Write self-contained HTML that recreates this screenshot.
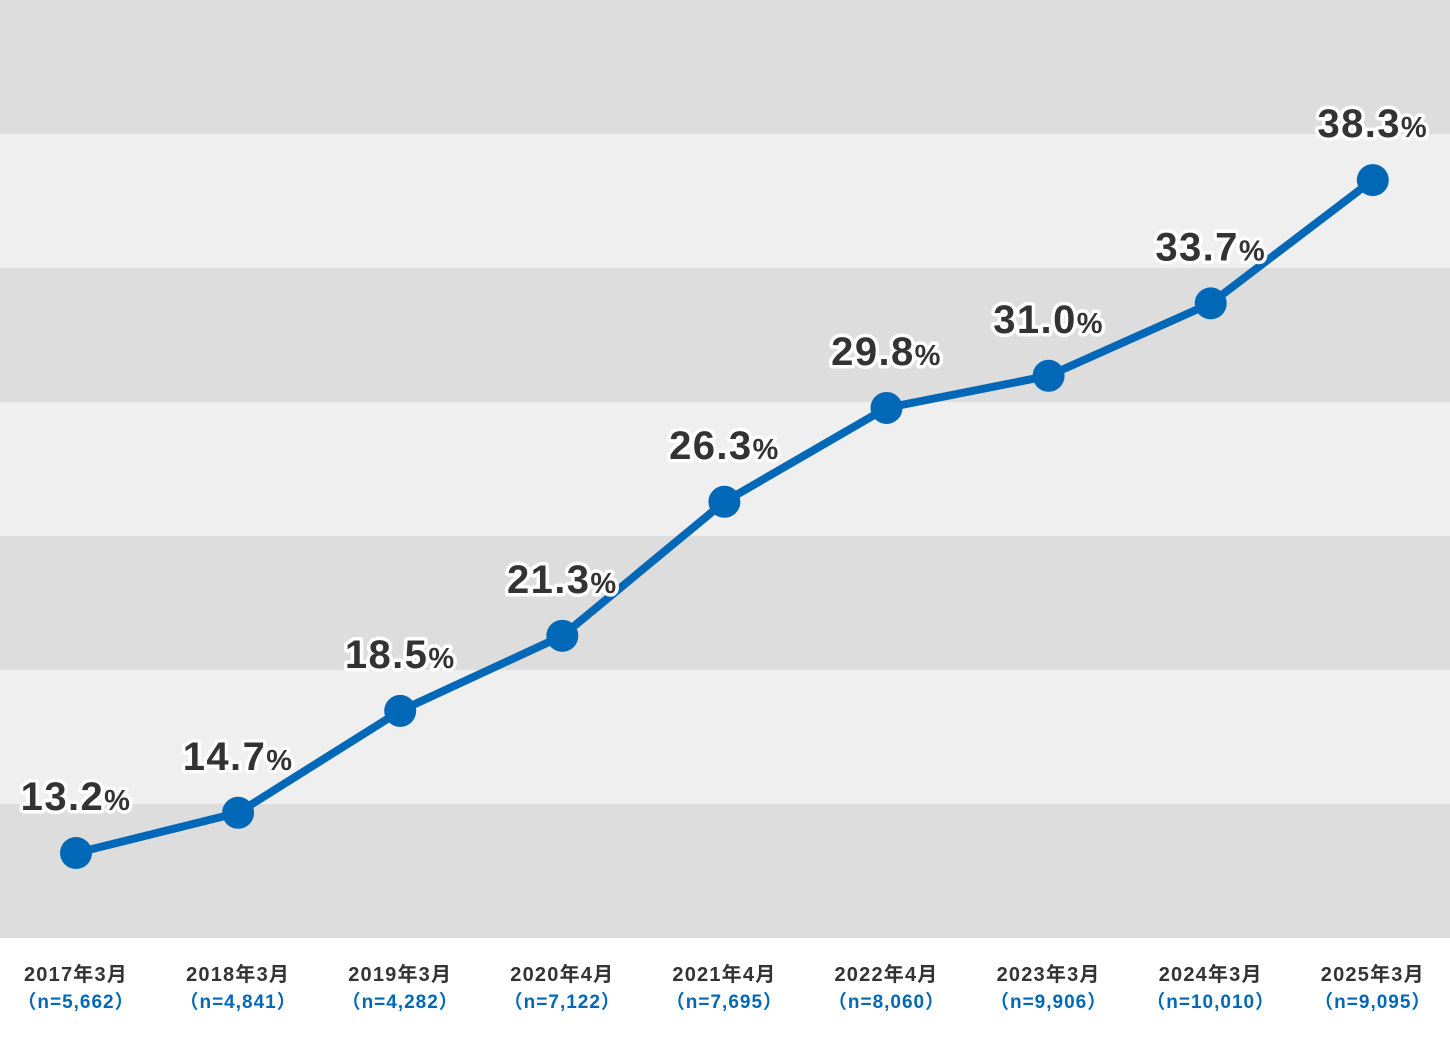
<!DOCTYPE html>
<html><head><meta charset="utf-8"><style>
html,body{margin:0;padding:0;background:#fff;}
svg{display:block;font-family:"Liberation Sans","Noto Sans CJK JP",sans-serif;}
</style></head><body>
<svg id="chart" width="1450" height="1050" viewBox="0 0 1450 1050">
<g id="bands"></g>
<g id="xlabels"></g>
<g id="series"></g>
</svg>
<script>
const categories = ["2017年3月","2018年3月","2019年3月","2020年4月","2021年4月","2022年4月","2023年3月","2024年3月","2025年3月"];
const sampleSizes = ["（n=5,662）","（n=4,841）","（n=4,282）","（n=7,122）","（n=7,695）","（n=8,060）","（n=9,906）","（n=10,010）","（n=9,095）"];
const values = [13.2,14.7,18.5,21.3,26.3,29.8,31.0,33.7,38.3];

const NS="http://www.w3.org/2000/svg";
function mk(tag,attrs,parent){const e=document.createElementNS(NS,tag);for(const k in attrs)e.setAttribute(k,attrs[k]);parent.appendChild(e);return e;}
const xScale=i=>76+i*162.1;
const yScale=v=>853-(v-13.2)*26.81;

const bands=document.getElementById('bands');
for(let i=0;i<7;i++){
  const r=mk('rect',{x:0,y:i*134,width:1450,height:134,fill:i%2===0?'#dddddd':'#efefef'},bands);
  
  
}
const xl=document.getElementById('xlabels');
categories.forEach((c,i)=>{
  const t=mk('text',{x:xScale(i),y:981,'text-anchor':'middle','font-size':20,'font-weight':'bold',fill:'#333','letter-spacing':1.2},xl);
  t.textContent=c;
  
  
  const n=mk('text',{x:xScale(i),y:1008,'text-anchor':'middle','font-size':19,'font-weight':'bold',fill:'#0068b7','letter-spacing':1},xl);
  n.textContent=sampleSizes[i];
  
  
});
const s=document.getElementById('series');
const pts=values.map((v,i)=>xScale(i)+','+yScale(v)).join(' ');
const line=mk('polyline',{points:pts,fill:'none',stroke:'#0068b7','stroke-width':8,'stroke-linejoin':'round'},s);


values.forEach((v,i)=>{
  const c=mk('circle',{cx:xScale(i),cy:yScale(v),r:16,fill:'#0068b7'},s);
  
  
  const t=mk('text',{x:xScale(i),y:yScale(v)-43,'text-anchor':'middle','font-size':40,'font-weight':'bold',fill:'#333',stroke:'#fff','stroke-width':7,'paint-order':'stroke','stroke-linejoin':'round','letter-spacing':1.4},s);
  
  
  const a=mk('tspan',{},t);a.textContent=v.toFixed(1);
  const b=mk('tspan',{'font-size':29},t);b.textContent='%';
});
</script>
</body></html>
